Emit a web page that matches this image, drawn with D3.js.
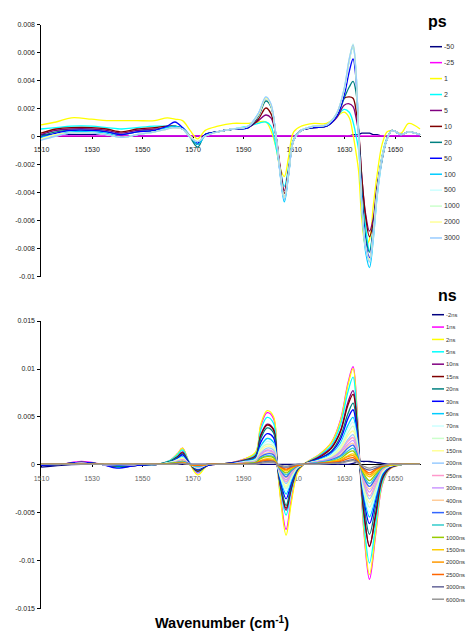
<!DOCTYPE html>
<meta charset="utf-8">
<style>
  body { margin: 0; background: #fff; }
  svg text { font-family: "Liberation Sans", Arial, sans-serif; }
  .axis path, .axis line { stroke: #000; stroke-width: 1px; shape-rendering: crispEdges; }
  .axis text { fill: #222; font-size: 7px; }
  .bottom-x text { fill: #666; }
  .line { fill: none; stroke-width: 1.3px; }
  .legend text { fill: #333; }
</style>
<body>
<script src="https://cdnjs.cloudflare.com/ajax/libs/d3/7.8.5/d3.min.js"></script>
<script>
  // all values are in units of 1e-4 (absorbance change)
  var UNIT = 1e-4;

  // ---- upper panel (ps) ----
  var psWavenumbers = [1510, 1516, 1522, 1530, 1536, 1542, 1548, 1555, 1560, 1563, 1566, 1569, 1572, 1575, 1580, 1586, 1592, 1596, 1599, 1601, 1603, 1604.5, 1606.3, 1608, 1610, 1613, 1618, 1623, 1627, 1630, 1632, 1633.5, 1634.7, 1635.7, 1637, 1638.5, 1640, 1641.5, 1643, 1645, 1647, 1649, 1652.5, 1655.5, 1660];
  var psLabels = ["-50", "-25", "1", "2", "5", "10", "20", "50", "100", "500", "1000", "2000", "3000"];
  var psColors = ["#000080", "#FF00FF", "#FFFF00", "#00FFFF", "#800080", "#800000", "#008080", "#0000FF", "#00CCFF", "#CCFFFF", "#CCFFCC", "#FFFF99", "#99CCFF"];
  var psValues = [
    [1, 1, 1, 1, 1, 0, 0, 0, 0, 0, 0, 0, 0, 0, 0, 0, 0, 0, 0, 0, 0, 0, 0, 0, 0, 0, 0, 0, 0, 0, 0, 1, 1, 1, 2, 2, 2, 1, 1, 0, 0, 0, 0, 0, 0],
    [0, 0, 0, 0, 0, 0, 0, 0, 0, 0, 0, 0, 0, 0, 0, 0, 0, 0, 0, 0, 0, 0, 0, 0, 0, 0, 0, 0, 0, 0, 0, 0, 0, 0, 0, 0, 0, 0, 0, 0, 0, 0, 0, 0, 0],
    [8, 10, 13, 12, 11, 11, 11, 11, 13, 12, 11, 4, -2, 4, 7, 9, 9, 10, 10, 4, -8, -22, -29, -15, 3, 7, 9, 9, 14, 17, 13, 1, -12, -25, -60, -78, -74, -50, -28, -6, 3, 4, 2, 9, 5],
    [5, 6, 7, 7, 6, 5, 6, 7, 7, 7, 6, 0, -6, 1, 3, 5, 7, 9, 10, 7, -8, -22, -36, -22, -2, 4, 7, 8, 14, 19, 17, 10, 0, -10, -40, -65, -82, -66, -38, -14, -1, 4, 1, 3, 1],
    [1, 4, 5, 5, 4, 2, 4, 5, 6, 6, 5, 0, -6, 1, 3, 5, 6, 11, 15, 13, 0, -20, -39, -24, -3, 4, 6, 7, 13, 22, 23, 21, 13, 2, -30, -56, -68, -59, -36, -16, -2, 4, 1, 3, 1],
    [2, 5, 6, 6, 5, 3, 5, 6, 7, 7, 5, 0, -6, 1, 3, 5, 6, 12, 20, 16, 0, -21, -41, -25, -3, 4, 6, 7, 14, 27, 28, 27, 18, 4, -30, -58, -72, -62, -38, -17, -2, 4, 1, 3, 1],
    [0, 3, 4, 4, 3, 1, 3, 4, 6, 7, 5, -1, -8, 1, 3, 5, 6, 14, 25, 21, 0, -23, -44, -26, -3, 4, 6, 7, 14, 27, 35, 39, 31, 5, -40, -72, -83, -66, -39, -15, -2, 4, 1, 3, 1],
    [-1, 2, 4, 4, 3, 1, 3, 4, 7, 10, 6, 0, -5, 1, 3, 5, 6, 15, 27, 22, 0, -24, -45, -27, -3, 4, 6, 7, 14, 29, 46, 55, 40, 2, -45, -76, -87, -68, -40, -15, -2, 4, 1, 3, 1],
    [-1, 1, 3, 3, 2, -1, 1, 3, 6, 7, 5, 0, -6, 0, 3, 5, 7, 16, 27, 22, 0, -25, -47, -28, -3, 4, 7, 8, 16, 33, 54, 64, 44, 0, -52, -83, -94, -74, -44, -17, -2, 4, 1, 3, 1],
    [-3, 0, 2, 2, 1, -1, 1, 3, 5, 6, 5, -1, -4, 0, 3, 5, 7, 16, 28, 23, 0, -24, -45, -27, -3, 4, 7, 8, 16, 34, 55, 66, 45, 0, -50, -80, -90, -71, -42, -16, -2, 4, 1, 3, 1],
    [-2, 1, 2, 2, 1, -1, 1, 3, 5, 6, 5, 0, -4, 0, 3, 5, 7, 15, 27, 22, 0, -23, -44, -26, -3, 4, 7, 8, 16, 34, 55, 65, 44, 0, -49, -79, -89, -70, -41, -15, -2, 4, 1, 3, 1],
    [-2, 1, 2, 2, 1, -1, 1, 3, 5, 6, 5, 0, -4, 0, 3, 5, 7, 15, 27, 22, 0, -23, -44, -26, -3, 4, 7, 8, 16, 33, 54, 65, 44, 0, -49, -79, -88, -69, -41, -15, -2, 4, 1, 3, 1],
    [-3, 0, 2, 2, 1, -1, 1, 3, 5, 6, 5, -1, -4, 0, 3, 5, 7, 16, 28, 23, 0, -24, -45, -27, -3, 4, 7, 8, 16, 34, 55, 65, 45, 0, -50, -80, -90, -71, -42, -16, -2, 4, 1, 3, 1]
  ];
  var psYTicks = [0.008, 0.006, 0.004, 0.002, 0, -0.002, -0.004, -0.006, -0.008, -0.01];

  // ---- lower panel (ns) ----
  var nsWavenumbers = [1510, 1518, 1526, 1534, 1540, 1548, 1556, 1561, 1564, 1566, 1568.5, 1572, 1576, 1584, 1591, 1595, 1597, 1599.5, 1602, 1603.5, 1605, 1607, 1609, 1611.5, 1614, 1620, 1625, 1628.5, 1631.5, 1633.5, 1635, 1636.2, 1637.8, 1640, 1642.5, 1645, 1648, 1653, 1660];
  var nsLabels = ["-2ns", "1ns", "2ns", "5ns", "10ns", "15ns", "20ns", "30ns", "50ns", "70ns", "100ns", "150ns", "200ns", "250ns", "300ns", "400ns", "500ns", "700ns", "1000ns", "1500ns", "2000ns", "2500ns", "3000ns", "6000ns"];
  var nsColors = ["#000080", "#FF00FF", "#FFFF00", "#00FFFF", "#800080", "#800000", "#008080", "#0000FF", "#00CCFF", "#CCFFFF", "#CCFFCC", "#FFFF99", "#99CCFF", "#FF99CC", "#CC99FF", "#FFCC99", "#3366FF", "#33CCCC", "#99CC00", "#FFCC00", "#FF9900", "#FF6600", "#666699", "#969696"];
  var nsValues = [
    [-3, -1, 0, 0, -3, -1, 0, 0, 0, 0, 0, 0, 0, 0, 0, 0, 0, 0, 0, 0, 0, 0, 0, 0, 0, 0, 0, 0, 0, 1, 2, 3, 3, 3, 2, 1, 0, 0, 0],
    [-1, 0, 3, 0, -3, -1, 0, 4, 11, 17, 3, -9, -1, 1, 6, 12, 40, 54, 48, 0, -38, -68, -38, -8, 0, 10, 23, 46, 85, 102, 60, 0, -70, -120, -72, -22, -5, 0, 0],
    [-1, 0, 2, 0, -3, -1, 0, 4, 11, 17, 3, -11, -1, 1, 6, 13, 42, 56, 50, 0, -41, -74, -41, -9, 0, 10, 23, 45, 83, 100, 59, 0, -68, -115, -70, -21, -5, 0, 0],
    [-1, 0, 2, 0, -3, -1, 0, 4, 10, 15, 3, -8, -1, 1, 5, 11, 36, 49, 43, 0, -29, -53, -29, -6, 0, 9, 20, 41, 76, 91, 53, 0, -60, -103, -62, -19, -4, 0, 0],
    [-1, 0, 2, 0, -2, -1, 0, 3, 8, 13, 2, -7, -1, 1, 5, 9, 31, 42, 37, 0, -26, -48, -26, -6, 0, 8, 18, 35, 65, 77, 46, 0, -51, -85, -53, -16, -4, 0, 0],
    [-1, 0, 2, 0, -2, -1, 0, 3, 8, 12, 2, -7, -1, 1, 4, 9, 30, 41, 36, 0, -25, -46, -25, -5, 0, 7, 17, 34, 62, 73, 44, 0, -50, -86, -51, -15, -4, 0, 0],
    [-1, 0, 2, 0, -2, -1, 0, 3, 7, 11, 2, -6, -1, 1, 4, 8, 27, 38, 33, 0, -23, -43, -23, -5, 0, 6, 14, 29, 53, 64, 38, 0, -42, -73, -43, -13, -3, 0, 0],
    [-1, 0, 2, 0, -4, -1, 0, 2, 6, 10, 2, -5, -1, 1, 3, 7, 23, 32, 28, 0, -20, -36, -20, -4, 0, 6, 13, 26, 48, 57, 34, 0, -36, -62, -37, -11, -3, 0, 0],
    [0, 0, 1, 0, -1, 0, 0, 2, 5, 8, 1, -4, 0, 0, 3, 6, 19, 27, 23, 0, -17, -31, -17, -4, 0, 5, 11, 22, 41, 49, 29, 0, -32, -55, -33, -10, -2, 0, 0],
    [0, 0, 1, 0, -1, 0, 0, 2, 5, 7, 1, -4, 0, 0, 3, 5, 17, 24, 21, 0, -15, -28, -15, -3, 0, 4, 10, 20, 37, 44, 26, 0, -29, -50, -30, -9, -2, 0, 0],
    [0, 0, 1, 0, -1, 0, 0, 2, 4, 7, 1, -4, 0, 0, 2, 5, 16, 21, 19, 0, -14, -25, -14, -3, 0, 4, 9, 18, 33, 40, 23, 0, -26, -45, -27, -8, -2, 0, 0],
    [0, 0, 1, 0, -1, 0, 0, 1, 4, 6, 1, -3, 0, 0, 2, 4, 14, 19, 17, 0, -12, -23, -12, -3, 0, 4, 8, 16, 30, 35, 21, 0, -23, -40, -24, -7, -2, 0, 0],
    [0, 0, 1, 0, -1, 0, 0, 1, 3, 5, 1, -3, 0, 0, 2, 4, 12, 17, 15, 0, -11, -20, -11, -2, 0, 3, 7, 14, 26, 31, 19, 0, -21, -36, -22, -6, -1, 0, 0],
    [0, 0, 1, 0, -1, 0, 0, 1, 3, 5, 1, -3, 0, 0, 2, 3, 11, 15, 13, 0, -10, -18, -10, -2, 0, 3, 6, 13, 24, 28, 17, 0, -19, -33, -20, -6, -1, 0, 0],
    [0, 0, 1, 0, -1, 0, 0, 1, 3, 4, 1, -2, 0, 0, 2, 3, 10, 14, 12, 0, -9, -16, -9, -2, 0, 3, 6, 12, 21, 25, 15, 0, -17, -29, -17, -5, -1, 0, 0],
    [0, 0, 1, 0, -1, 0, 0, 1, 2, 4, 1, -2, 0, 0, 1, 3, 9, 12, 11, 0, -8, -14, -8, -2, 0, 2, 5, 10, 19, 22, 13, 0, -15, -26, -15, -5, -1, 0, 0],
    [0, 0, 0, 0, -1, 0, 0, 1, 2, 3, 1, -2, 0, 0, 1, 2, 8, 11, 10, 0, -7, -13, -7, -2, 0, 2, 5, 9, 17, 20, 12, 0, -14, -23, -14, -4, -1, 0, 0],
    [0, 0, 0, 0, 0, 0, 0, 1, 2, 3, 0, -2, 0, 0, 1, 2, 7, 9, 8, 0, -6, -11, -6, -1, 0, 2, 4, 8, 14, 17, 10, 0, -12, -20, -12, -4, -1, 0, 0],
    [0, 0, 0, 0, 0, 0, 0, 1, 2, 2, 0, -1, 0, 0, 1, 2, 6, 8, 7, 0, -5, -9, -5, -1, 0, 1, 3, 6, 12, 14, 8, 0, -10, -17, -10, -3, -1, 0, 0],
    [0, 0, 0, 0, 0, 0, 0, 0, 1, 2, 0, -1, 0, 0, 1, 1, 4, 6, 5, 0, -4, -7, -4, -1, 0, 1, 3, 5, 9, 11, 7, 0, -8, -13, -8, -2, -1, 0, 0],
    [0, 0, 0, 0, 0, 0, 0, 0, 1, 2, 0, -1, 0, 0, 1, 1, 4, 5, 4, 0, -3, -6, -3, -1, 0, 1, 2, 4, 8, 9, 5, 0, -6, -11, -6, -2, 0, 0, 0],
    [0, 0, 0, 0, 0, 0, 0, 0, 1, 1, 0, -1, 0, 0, 0, 1, 3, 4, 3, 0, -3, -5, -3, -1, 0, 1, 2, 3, 6, 7, 4, 0, -5, -9, -5, -2, 0, 0, 0],
    [0, 0, 0, 0, 0, 0, 0, 0, 1, 1, 0, 0, 0, 0, 0, 1, 2, 3, 3, 0, -2, -3, -2, 0, 0, 1, 1, 2, 4, 5, 3, 0, -4, -6, -4, -1, 0, 0, 0],
    [0, 0, 0, 0, 0, 0, 0, 0, 0, 1, 0, 0, 0, 0, 0, 0, 1, 2, 2, 0, -1, -2, -1, 0, 0, 0, 1, 1, 3, 4, 2, 0, -2, -4, -2, -1, 0, 0, 0]
  ];
  var nsYTicks = [0.015, 0.01, 0.005, 0, -0.005, -0.01, -0.015];

  var xTicks = [1510, 1530, 1550, 1570, 1590, 1610, 1630, 1650];

  var svg = d3.select("body").append("svg")
    .attr("width", 466)
    .attr("height", 632);

  function fmt(d) { return String(+d.toFixed(4)); }

  function drawPanel(opt) {
    var x = d3.scaleLinear().domain([1510, 1660]).range([41, 420]);
    var y = d3.scaleLinear().domain(opt.yDomain).range(opt.yRange);
    var g = svg.append("g");

    g.append("g")
      .attr("class", "axis")
      .attr("transform", "translate(40,0)")
      .call(d3.axisLeft(y).tickValues(opt.yTicks).tickSize(3).tickSizeOuter(0).tickPadding(2).tickFormat(fmt));

    g.append("g")
      .attr("class", "axis " + opt.xClass)
      .attr("transform", "translate(0," + y(0) + ")")
      .call(d3.axisBottom(x).tickValues(xTicks).tickSize(3).tickSizeOuter(0).tickPadding(opt.xPad).tickFormat(d3.format("d")));

    var line = d3.line()
      .x(function(d) { return x(d[0]); })
      .y(function(d) { return y(d[1] * UNIT); })
      .curve(d3.curveCatmullRom.alpha(0.5));

    opt.values.forEach(function(vals, i) {
      var pts = vals.map(function(v, j) { return [opt.wavenumbers[j], v]; });
      g.append("path")
        .attr("class", "line")
        .attr("stroke", opt.colors[i])
        .attr("d", line(pts));
    });

    // legend
    var lg = g.append("g").attr("class", "legend");
    lg.append("text")
      .attr("x", opt.titleX).attr("y", opt.titleY)
      .style("font-size", "16px").style("font-weight", "bold").style("fill", "#000")
      .text(opt.title);
    opt.labels.forEach(function(lab, i) {
      var yy = opt.legY + i * opt.legStep;
      lg.append("line")
        .attr("x1", opt.legX).attr("x2", opt.legX + opt.legLen)
        .attr("y1", yy).attr("y2", yy)
        .attr("stroke", opt.colors[i]).attr("stroke-width", 1.5);
      lg.append("text")
        .attr("x", opt.legX + opt.legLen + 2).attr("y", yy + 2.3)
        .style("font-size", opt.legFont)
        .text(lab);
    });
  }

  drawPanel({
    yDomain: [-0.01, 0.008], yRange: [276, 24], yTicks: psYTicks,
    xClass: "top-x", xPad: 8,
    wavenumbers: psWavenumbers, values: psValues, colors: psColors, labels: psLabels,
    title: "ps", titleX: 428, titleY: 27,
    legX: 430, legLen: 12, legY: 46.7, legStep: 15.94, legFont: "7px"
  });

  drawPanel({
    yDomain: [-0.015, 0.015], yRange: [608, 320.7], yTicks: nsYTicks,
    xClass: "bottom-x", xPad: 9,
    wavenumbers: nsWavenumbers, values: nsValues, colors: nsColors, labels: nsLabels,
    title: "ns", titleX: 438, titleY: 301,
    legX: 432, legLen: 12, legY: 314.7, legStep: 12.37, legFont: "5.8px"
  });

  // x axis title
  var t = svg.append("text")
    .attr("x", 222).attr("y", 628)
    .attr("text-anchor", "middle")
    .style("font-size", "14.5px").style("font-weight", "bold");
  t.append("tspan").text("Wavenumber (cm");
  t.append("tspan").attr("dy", -5).style("font-size", "10px").text("-1");
  t.append("tspan").attr("dy", 5).text(")");
</script>
</body>
